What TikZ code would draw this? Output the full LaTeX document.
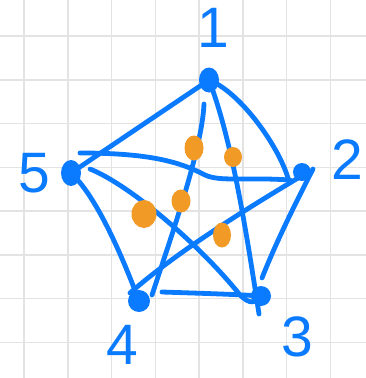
\documentclass[tikz,border=0pt]{standalone}
\usepackage{fontspec}
\setmainfont{Liberation Sans}
\usetikzlibrary{shapes.geometric,calc}
\definecolor{pen}{HTML}{0A7AFF}
\definecolor{mark}{HTML}{F29A26}
\definecolor{gridc}{HTML}{E3E3E3}
\begin{document}
\begin{tikzpicture}[x=1pt,y=-1pt,
  edge/.style={draw=pen,line width=4.8pt,line cap=round,line join=round},
  vtx/.style={ellipse,fill=pen,inner sep=0},
  lbl/.style={text=pen,font=\fontsize{57}{57}\selectfont,inner sep=0},
  blob/.style={ellipse,fill=mark,inner sep=0}]
\useasboundingbox (0,0) rectangle (366,378);
\fill[white] (0,0) rectangle (366,378);
\foreach \i in {0,...,7} {
  \draw[gridc,line width=1.5pt] (24+43.75*\i,0) -- (24+43.75*\i,378);
  \draw[gridc,line width=1.5pt] (0,36+43.75*\i) -- (366,36+43.75*\i);
}
% vertices
\node[vtx,minimum width=20pt,minimum height=25pt] (v1) at (209,80) {};
\node[vtx,minimum width=18pt,minimum height=18pt] (v2) at (302,172) {};
\node[vtx,minimum width=20pt,minimum height=20pt] (v3) at (261,296) {};
\node[vtx,minimum width=22pt,minimum height=22pt] (v4) at (139,301) {};
\node[vtx,minimum width=20pt,minimum height=26pt] (v5) at (71,173) {};
% labels
\node[lbl] (l1) at (213,28) {1};
\node[lbl] (l2) at (347,160) {2};
\node[lbl] (l3) at (297,337) {3};
\node[lbl] (l4) at (122,345) {4};
\node[lbl] (l5) at (34,173) {5};
% edges
\draw[edge] (v1.center) -- (v5.center);
\draw[edge] (v1.center) .. controls (240,92) and (278,145) .. ($(v2.center)+(-14,6)$);
\draw[edge] (v1.center) .. controls (232,140) and (246,230) .. ($(v3.center)+(-2,18)$);
\draw[edge] ($(v1.center)+(-5,24)$) .. controls (202,150) and (170,240) .. ($(v4.center)+(13,-6)$);
\draw[edge] ($(v5.center)+(9,-20)$) .. controls (150,153) and (180,162) .. (205,175)
  .. controls (220,182) and (245,177) .. ($(v2.center)+(-12,8)$);
\draw[edge] ($(v2.center)+(6,0)$) .. controls (265,198) and (185,245) .. ($(v4.center)+(-9,-8)$);
\draw[edge] ($(v2.center)+(11,-3)$) .. controls (292,210) and (275,245) .. ($(v3.center)+(1,-18)$);
\draw[edge] ($(v4.center)+(23,-9)$) .. controls (190,293) and (230,294) .. (v3.center);
\draw[edge] ($(v5.center)+(19,-4)$) .. controls (130,185) and (200,245) .. (240,295)
  .. controls (250,305) and (256,303) .. (v3.center);
\draw[edge] (v5.center) .. controls (95,195) and (120,250) .. (v4.center);
% crossing marks
\node[blob,minimum width=19pt,minimum height=25pt] (x1) at (194,148) {};
\node[blob,minimum width=18pt,minimum height=20pt] (x2) at (233,157) {};
\node[blob,minimum width=19pt,minimum height=23pt] (x3) at (181,201) {};
\node[blob,minimum width=25pt,minimum height=28pt] (x4) at (144,214) {};
\node[blob,minimum width=18pt,minimum height=25pt] (x5) at (222,235) {};
\end{tikzpicture}
\end{document}
